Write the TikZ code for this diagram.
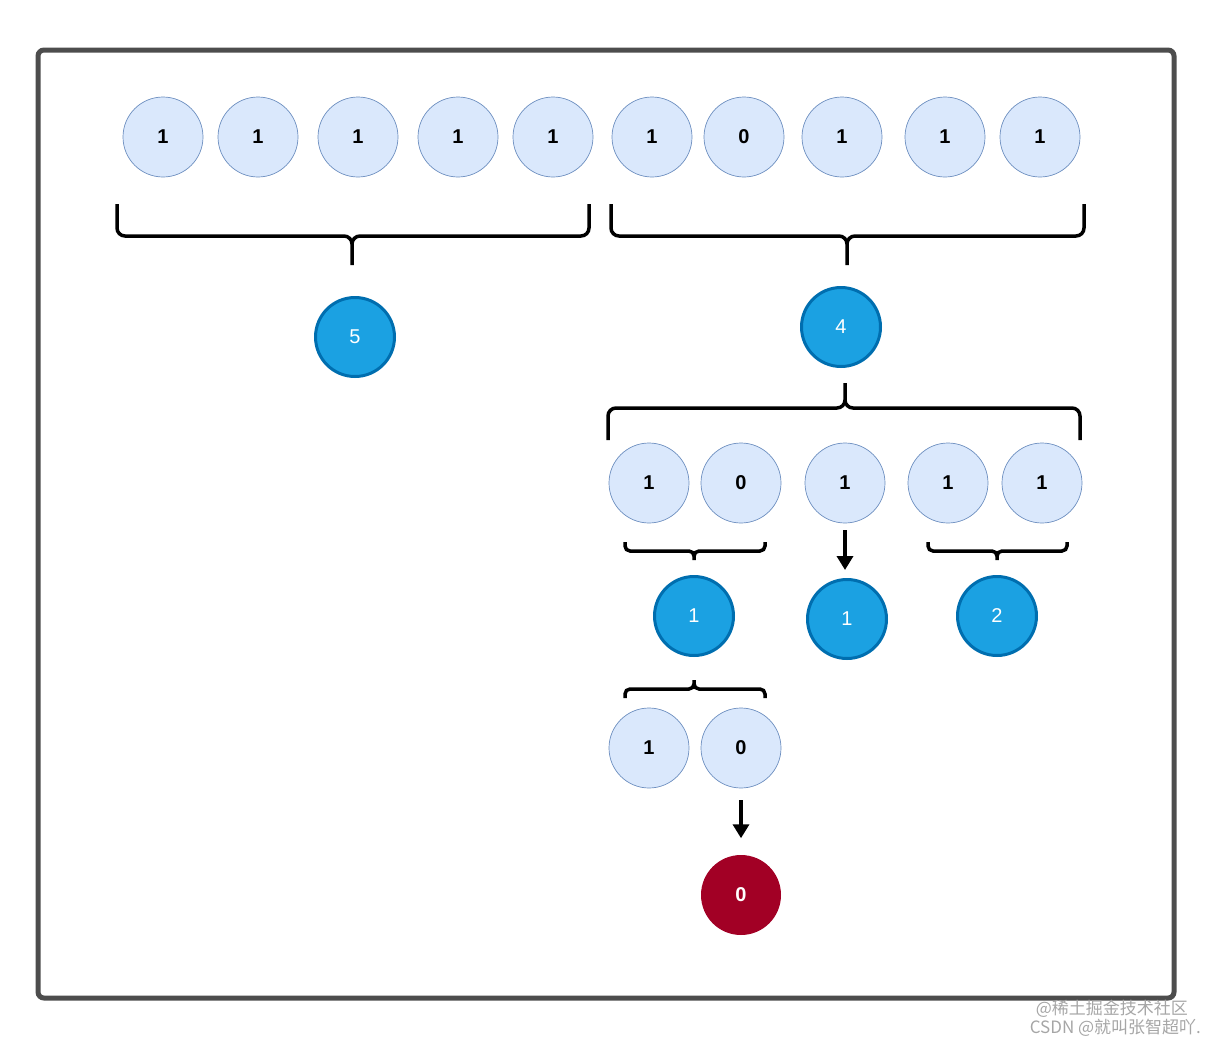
\documentclass[tikz,border=0pt]{standalone}
\usepackage{fontspec}
\setmainfont{Liberation Sans}
\newfontfamily\cjk{Noto Sans CJK SC}
\usetikzlibrary{arrows.meta}
\definecolor{cellfill}{HTML}{DAE8FC}
\definecolor{cellline}{HTML}{6C8EBF}
\definecolor{sumfill}{HTML}{1BA1E2}
\definecolor{sumline}{HTML}{006EAF}
\definecolor{zerofill}{HTML}{A20025}
\definecolor{framegray}{HTML}{4D4D4D}
\begin{document}
\begin{tikzpicture}[x=1pt,y=-1pt,line width=3.5pt,
	cell/.style={circle,draw=cellline,fill=cellfill,line width=0.7pt,minimum size=80pt,inner sep=0pt,font=\fontsize{20}{22}\selectfont\bfseries},
	sum/.style={circle,draw=sumline,fill=sumfill,line width=3pt,minimum size=79pt,inner sep=0pt,text=white,font=\fontsize{20}{22}\selectfont},
	zero/.style={circle,fill=zerofill,minimum size=80pt,inner sep=0pt,text=white,font=\fontsize{20}{22}\selectfont\bfseries},
	brace/.style={line width=3.5pt,rounded corners=8pt},
	smallbrace/.style={line width=3.5pt,rounded corners=5pt},
	arrow/.style={-{Triangle[length=14pt,width=16pt]},line width=3.5pt}]
		\useasboundingbox (0,0) rectangle (1219,1047);
		\draw[framegray,line width=5pt,rounded corners=6pt] (38,50) rectangle (1174,998);
		\foreach \x/\v [count=\i] in {163/1,258/1,358/1,458/1,553/1,652/1,744/0,842/1,945/1,1040/1}
			\node[cell] (t\i) at (\x,137) {\v};
		\coordinate (p1) at (352,265); \coordinate (p2) at (847,265);
		\draw[brace] (117,204) |- (352,236) -- (p1) (589,204) |- (352,236) -- (p1);
		\draw[brace] (611,204) |- (847,236) -- (p2) (1084,204) |- (847,236) -- (p2);
		\node[sum] (s5) at (355,337) {5};
		\node[sum] (s4) at (841,327) {4};
		\coordinate (q4) at (845,383);
		\draw[brace] (608,440) |- (845,408) -- (q4) (1080,440) |- (845,408) -- (q4);
		\foreach \x/\v [count=\i] in {649/1,741/0,845/1,948/1,1042/1}
			\node[cell] (m\i) at (\x,483) {\v};
		\coordinate (p3) at (694,560); \coordinate (p4) at (997,560);
		\draw[smallbrace] (625,542) |- (694,551) -- (p3) (765,542) |- (694,551) -- (p3);
		\draw[smallbrace] (928,542) |- (997,551) -- (p4) (1067,542) |- (997,551) -- (p4);
		\node[sum] (a1) at (694,616) {1};
		\node[sum] (a2) at (847,619) {1};
		\node[sum] (a3) at (997,616) {2};
		\draw[arrow] ([yshift=-7pt]m3.south) -- ([yshift=8pt]m3.south |- a2.north);
		\coordinate (q1) at (694,680);
		\draw[smallbrace] (625,698) |- (694,689) -- (q1) (765,698) |- (694,689) -- (q1);
		\node[cell] (b1) at (649,748) {1};
		\node[cell] (b2) at (741,748) {0};
		\node[zero] (z) at (741,895) {0};
		\draw[arrow] ([yshift=-12pt]b2.south) -- ([yshift=15pt]z.north);
		\node[anchor=east,text=gray!70,font=\cjk\fontsize{17}{19}\selectfont] (w1) at (1193,1009) {@稀土掘金技术社区};
		\node[anchor=east,text=gray!70,font=\cjk\fontsize{17}{19}\selectfont] (w2) at (1206,1028) {CSDN @就叫张智超吖.};
\end{tikzpicture}
\end{document}
